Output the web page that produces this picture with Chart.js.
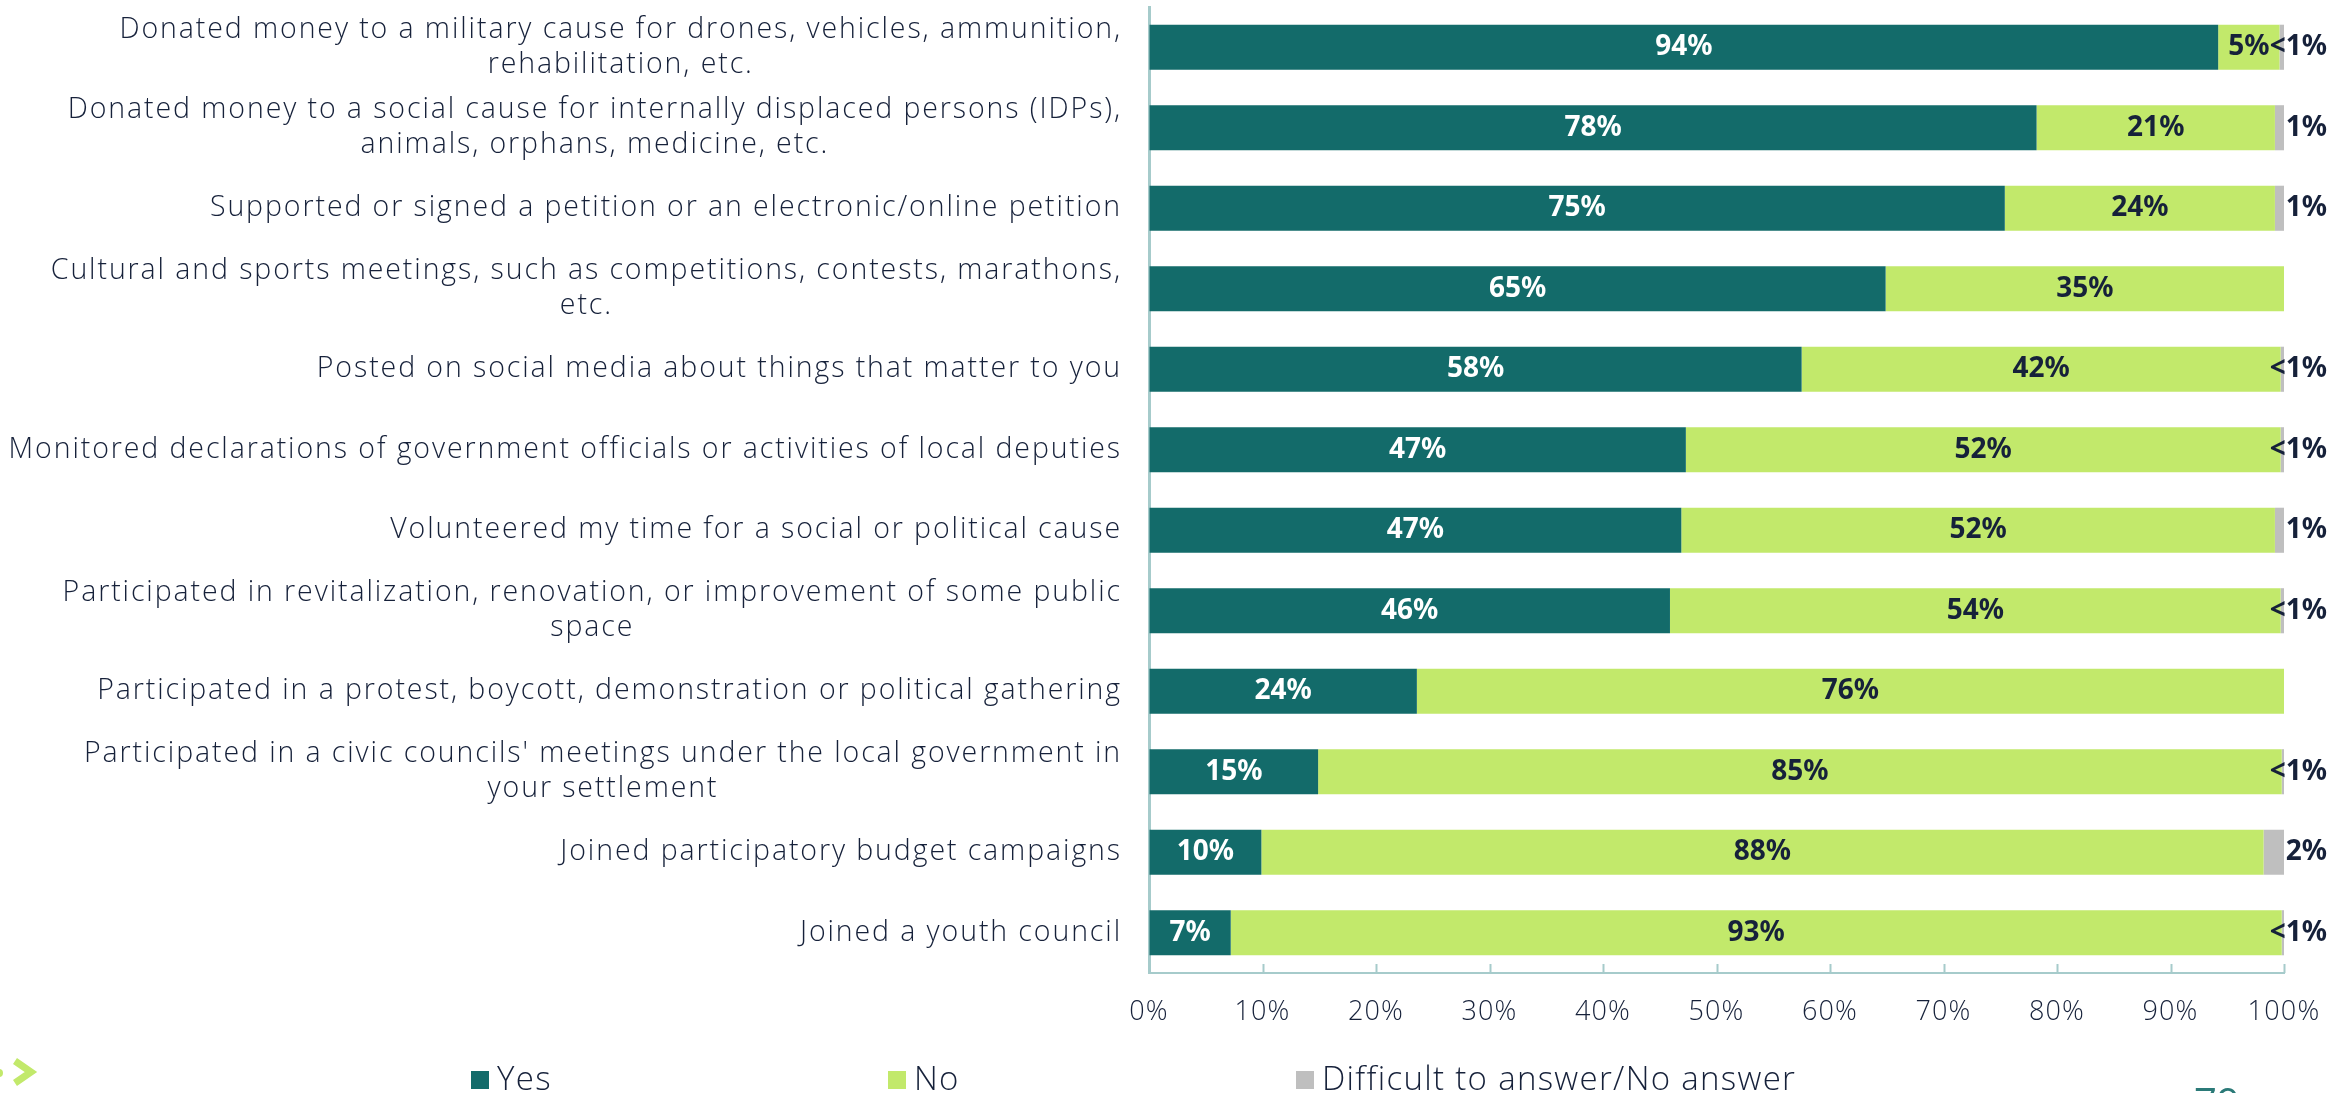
<!DOCTYPE html>
<html>
<head>
<meta charset="utf-8">
<script src="https://cdn.jsdelivr.net/npm/chart.js@4.4.0/dist/chart.umd.min.js"></script>
<style>
  html, body { margin: 0; padding: 0; background: #ffffff; }
  #contenedor { width: 2331px; height: 1093px; }
</style>
</head>
<body>
<div id="contenedor"><canvas id="graficoActividades" width="2331" height="1093"></canvas></div>
<script>
// categorias (cada una puede tener dos lineas)
const categorias = [
  ['Donated money to a military cause for drones, vehicles, ammunition,', 'rehabilitation, etc.'],
  ['Donated money to a social cause for internally displaced persons (IDPs),', 'animals, orphans, medicine, etc.'],
  ['Supported or signed a petition or an electronic/online petition'],
  ['Cultural and sports meetings, such as competitions, contests, marathons,', 'etc.'],
  ['Posted on social media about things that matter to you'],
  ['Monitored declarations of government officials or activities of local deputies'],
  ['Volunteered my time for a social or political cause'],
  ['Participated in revitalization, renovation, or improvement of some public', 'space'],
  ['Participated in a protest, boycott, demonstration or political gathering'],
  ["Participated in a civic councils' meetings under the local government in", 'your settlement'],
  ['Joined participatory budget campaigns'],
  ['Joined a youth council']
];

const nombresSeries = ['Yes', 'No', 'Difficult to answer/No answer'];
const valoresYes = [94.2, 78.2, 75.4, 64.9, 57.5, 47.3, 46.9, 45.9, 23.6, 14.9, 9.9, 7.2];
const valoresNo = [5.4, 21.0, 23.8, 35.1, 42.2, 52.4, 52.3, 53.8, 76.4, 84.9, 88.3, 92.6];
const valoresDificil = [0.4, 0.8, 0.8, 0, 0.3, 0.3, 0.8, 0.3, 0, 0.2, 1.8, 0.2];
const etiquetasEjeX = ['0%', '10%', '20%', '30%', '40%', '50%', '60%', '70%', '80%', '90%', '100%'];

const colorTexto = '#16213a';
const colorEje = '#a6cbcb';

function textoValor(v) {
  return v < 0.5 ? '<1%' : Math.round(v) + '%';
}

// espaciado de letras para las etiquetas de los ejes (la fuente original es mas ancha)
const espaciado = {
  id: 'espaciado',
  beforeDraw(chart) {
    chart.ctx.letterSpacing = '1.2px';
  }
};

// etiquetas de categoria: bloque alineado a la derecha, lineas centradas
const etiquetasCategorias = {
  id: 'etiquetasCategorias',
  afterDraw(chart) {
    const ctx = chart.ctx;
    const escalaY = chart.scales.y;
    const derecha = chart.chartArea.left - 27;
    ctx.save();
    ctx.font = '300 28.5px "Open Sans"';
    ctx.letterSpacing = '1.9px';
    ctx.fillStyle = colorTexto;
    ctx.textAlign = 'center';
    ctx.textBaseline = 'middle';
    categorias.forEach((lineas, i) => {
      const y = escalaY.getPixelForTick(i);
      const ancho = Math.max(...lineas.map(l => ctx.measureText(l).width));
      const cx = derecha - ancho / 2;
      const alto = 35;
      lineas.forEach((l, k) => {
        ctx.fillText(l, cx, y + (k - (lineas.length - 1) / 2) * alto);
      });
    });
    ctx.restore();
  }
};

// valores dentro y al lado de las barras
const etiquetasValores = {
  id: 'etiquetasValores',
  afterDatasetsDraw(chart) {
    const ctx = chart.ctx;
    ctx.save();
    ctx.font = 'bold 28px "Noto Sans"';
    ctx.letterSpacing = '0px';
    ctx.textBaseline = 'middle';
    chart.data.datasets.forEach((ds, d) => {
      const meta = chart.getDatasetMeta(d);
      meta.data.forEach((barra, i) => {
        const v = ds.data[i];
        if (!v) return;
        const txt = textoValor(v);
        if (d === 2) {
          ctx.textAlign = 'right';
          ctx.fillStyle = colorTexto;
          ctx.fillText(txt, chart.width - 4, barra.y);
        } else {
          ctx.textAlign = 'center';
          ctx.fillStyle = d === 0 ? '#ffffff' : colorTexto;
          ctx.fillText(txt, (barra.x + barra.base) / 2, barra.y);
        }
      });
    });
    ctx.restore();
  }
};

// marcas del eje x hacia dentro, leyenda y adornos de pagina
const extras = {
  id: 'extras',
  afterDraw(chart) {
    const ctx = chart.ctx;
    const escalaX = chart.scales.x;
    const abajo = chart.chartArea.bottom;
    ctx.save();
    ctx.strokeStyle = colorEje;
    ctx.lineWidth = 2;
    escalaX.ticks.forEach(t => {
      const x = Math.round(escalaX.getPixelForValue(t.value)) + 0.5;
      ctx.beginPath();
      ctx.moveTo(x, abajo - 9);
      ctx.lineTo(x, abajo);
      ctx.stroke();
    });

    // leyenda
    const posiciones = [471, 888, 1296];
    ctx.font = '300 33px "Open Sans"';
    ctx.letterSpacing = '1.3px';
    ctx.textBaseline = 'alphabetic';
    ctx.textAlign = 'left';
    chart.data.datasets.forEach((ds, d) => {
      const x = posiciones[d];
      ctx.fillStyle = ds.backgroundColor;
      ctx.fillRect(x, 1071, 18, 18);
      ctx.fillStyle = colorTexto;
      ctx.fillText(ds.label, x + 26, 1090);
    });

    // flecha verde y numero de pagina
    ctx.strokeStyle = '#c2e96b';
    ctx.lineWidth = 7;
    ctx.beginPath();
    ctx.moveTo(15, 1061);
    ctx.lineTo(31, 1072);
    ctx.lineTo(15, 1083);
    ctx.stroke();
    ctx.fillStyle = '#c2e96b';
    ctx.beginPath();
    ctx.arc(-1, 1073, 4, 0, Math.PI * 2);
    ctx.fill();
    ctx.fillStyle = '#2b7a78';
    ctx.font = '40px "Open Sans"';
    ctx.letterSpacing = '0px';
    ctx.fillText('79', 2194, 1117);
    ctx.restore();
  }
};

const ctx = document.getElementById('graficoActividades').getContext('2d');

new Chart(ctx, {
  type: 'bar',
  data: {
    labels: categorias,
    datasets: [
      { label: nombresSeries[0], data: valoresYes, backgroundColor: '#136b6a' },
      { label: nombresSeries[1], data: valoresNo, backgroundColor: '#c2e96b' },
      { label: nombresSeries[2], data: valoresDificil, backgroundColor: '#bfbfbf' }
    ]
  },
  options: {
    indexAxis: 'y',
    responsive: false,
    animation: false,
    layout: { padding: { top: 7, right: 47, left: 0, bottom: 0 } },
    datasets: { bar: { categoryPercentage: 1, barPercentage: 0.56 } },
    scales: {
      x: {
        stacked: true,
        min: 0,
        max: 100,
        ticks: {
          stepSize: 10,
          padding: 23,
          color: colorTexto,
          font: { family: 'Open Sans', size: 27, weight: '300' },
          callback: (v, i) => etiquetasEjeX[i]
        },
        grid: { drawOnChartArea: false, drawTicks: false },
        border: { color: colorEje, width: 2 },
        afterFit: escala => { escala.height = 120; escala.paddingRight = 0; escala.paddingLeft = 0; }
      },
      y: {
        stacked: true,
        ticks: { display: false },
        grid: { display: false },
        border: { color: colorEje, width: 3 },
        afterFit: escala => { escala.width = 1149; }
      }
    },
    plugins: {
      legend: { display: false },
      tooltip: { enabled: false }
    }
  },
  plugins: [espaciado, etiquetasCategorias, etiquetasValores, extras]
});
</script>
</body>
</html>
